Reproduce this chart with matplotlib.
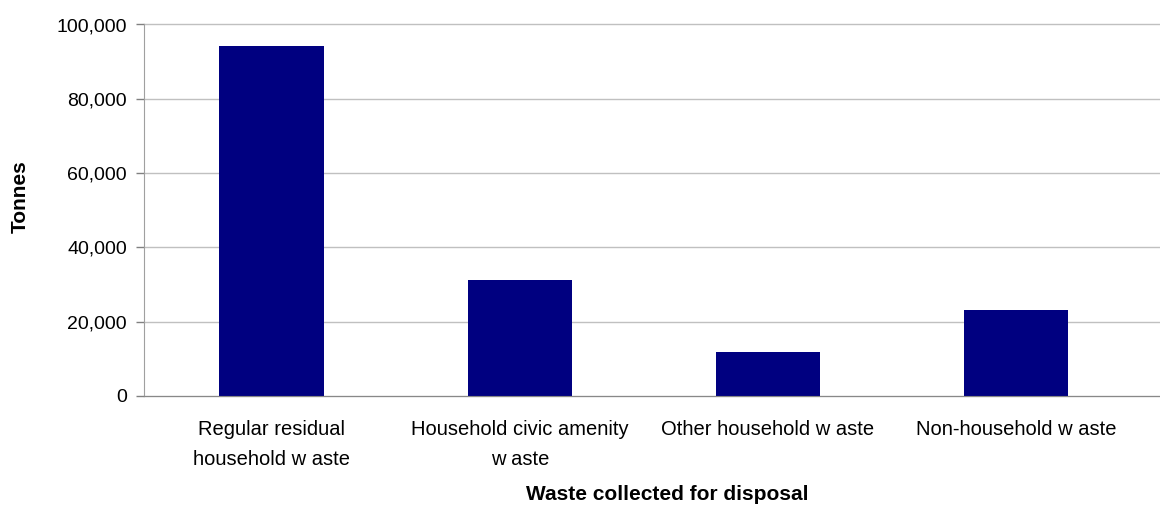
import matplotlib
matplotlib.use('Agg')
import matplotlib.pyplot as plt
from matplotlib.ticker import FuncFormatter

categories = ['Regular residual\nhousehold w aste', 'Household civic amenity\nw aste',
	'Other household w aste', 'Non-household w aste']
tonnes = [94200, 31200, 11900, 23200]
y_ticks = [0, 20000, 40000, 60000, 80000, 100000]

plt.rcParams['font.family'] = ['Liberation Sans', 'DejaVu Sans']

W, H = 1160, 509
fig = plt.figure(figsize=(W / 100, H / 100), dpi=100)
ax = fig.add_axes([143.5 / W, 1 - 396 / H, (1160 - 143.5) / W, (396 - 24.5) / H])

x = list(range(len(categories)))
ax.bar(x, tonnes, width=0.42, color='#000080', zorder=3)

ax.set_xlim(-0.516, 3.58)
ax.set_ylim(0, 100000)
ax.set_yticks(y_ticks)
ax.yaxis.set_major_formatter(FuncFormatter(lambda v, p: f'{int(v):,}'))
ax.set_xticks(x)
ax.set_xticklabels(categories, fontsize=14.5, linespacing=1.75)
ax.tick_params(axis='x', length=0, pad=17)
ax.tick_params(axis='y', labelsize=14, length=6, width=1, color='#808080', pad=6)
ax.grid(axis='y', color='#c0c0c0', linewidth=1, zorder=0)
for gl in ax.get_ygridlines():
	gl.set_clip_on(False)

for side in ['top', 'right']:
	ax.spines[side].set_visible(False)
ax.spines['left'].set_color('#a0a0a0')
ax.spines['bottom'].set_color('#888888')
ax.spines['bottom'].set_zorder(4)

fig.text(20 / W, 1 - 197 / H, 'Tonnes', rotation=90, ha='center', va='center',
	fontsize=15, fontweight='bold')
fig.text(667 / W, 1 - 494 / H, 'Waste collected for disposal', ha='center', va='center',
	fontsize=15, fontweight='bold')

fig.savefig('out.png', dpi=100)
